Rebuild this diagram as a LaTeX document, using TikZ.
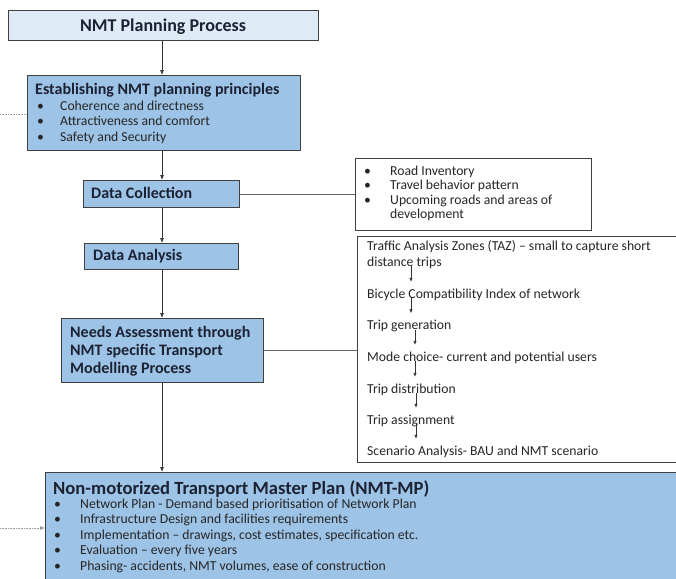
\documentclass[tikz,border=0pt]{standalone}
\usepackage{fontspec}
\setmainfont{Carlito}
\usetikzlibrary{arrows.meta}
\definecolor{boxblue}{HTML}{9DC3E6}
\definecolor{lightblue}{HTML}{DEEBF7}
\definecolor{edge}{HTML}{404040}
\definecolor{headtxt}{HTML}{1C2233}
\definecolor{bodytxt}{HTML}{262626}
\tikzset{
 box/.style={draw=edge, line width=1pt, inner sep=0pt, anchor=north west},
 bluebox/.style={box, fill=boxblue},
 whitebox/.style={box, fill=white},
 txt/.style={inner sep=0pt, anchor=base west, text=bodytxt, text height=9pt, text depth=2.5pt, font=\fontsize{13.7}{15}\selectfont},
 btxt/.style={txt, text=headtxt, text height=11pt, text depth=3pt, font=\bfseries\fontsize{16}{18}\selectfont},
 bigtxt/.style={txt, text=headtxt, text height=12.5pt, text depth=2pt, font=\bfseries\fontsize{18.6}{20}\selectfont},
 arr/.style={-{Latex[length=5pt,width=4pt]}, draw=black!80, line width=0.7pt},
 sarr/.style={-{Latex[length=4pt,width=3.5pt]}, draw=black!80, line width=0.6pt, shorten >=7pt},
 link/.style={draw=black!60, line width=0.7pt},
 dots/.style={draw=black!40, densely dotted, line width=0.6pt},
}
\begin{document}
\begin{tikzpicture}[x=1pt,y=-1pt]
\clip (0,0) rectangle (676,578);
\fill[white] (0,0) rectangle (676,578);

% boxes
\node[box, fill=lightblue, minimum width=310pt, minimum height=30pt] (title) at (8,10) {};
\node[btxt, anchor=base, font=\bfseries\fontsize{18}{20}\selectfont] (titletxt) at (163,31.5) {NMT Planning Process};

\node[bluebox, minimum width=273pt, minimum height=75pt] (princ) at (27,75) {};
\node[btxt] (ph) at (35,94) {Establishing NMT planning principles};
\node[txt] (pb1) at (37,110) {\textbullet};
\node[txt] (pt1) at (60,110) {Coherence and directness};
\node[txt] (pb2) at (37,125.5) {\textbullet};
\node[txt] (pt2) at (60,125.5) {Attractiveness and comfort};
\node[txt] (pb3) at (37,141) {\textbullet};
\node[txt] (pt3) at (60,141) {Safety and Security};

\node[bluebox, minimum width=156pt, minimum height=27pt] (dc) at (83,180) {};
\node[btxt] (dctxt) at (91,198) {Data Collection};

\node[bluebox, minimum width=154pt, minimum height=26pt] (da) at (84,243) {};
\node[btxt] (datxt) at (93,260.5) {Data Analysis};

\node[bluebox, minimum width=202pt, minimum height=64pt] (needs) at (61,318) {};
\node[btxt] (n1) at (70,337) {Needs Assessment through};
\node[btxt] (n2) at (70,355) {NMT specific Transport};
\node[btxt] (n3) at (70,373) {Modelling Process};

\node[whitebox, minimum width=236pt, minimum height=72pt] (road) at (355,158) {};
\node[txt] (rb1) at (364,175) {\textbullet};
\node[txt] (rt1) at (390,175) {Road Inventory};
\node[txt] (rb2) at (364,189.5) {\textbullet};
\node[txt] (rt2) at (390,189.5) {Travel behavior pattern};
\node[txt] (rb3) at (364,204) {\textbullet};
\node[txt] (rt3) at (390,204) {Upcoming roads and areas of};
\node[txt] (rt4) at (390,218.5) {development};

\node[whitebox, minimum width=340pt, minimum height=226pt] (taz) at (357,236) {};
\node[txt] (t1a) at (367,250) {Traffic Analysis Zones (TAZ) – small to capture short};
\node[txt] (t1b) at (367,266) {distance trips};
\node[txt] (t2) at (367,298) {Bicycle Compatibility Index of network};
\node[txt] (t3) at (367,329.5) {Trip generation};
\node[txt] (t4) at (367,361) {Mode choice- current and potential users};
\node[txt] (t5) at (367,393) {Trip distribution};
\node[txt] (t6) at (367,424) {Trip assignment};
\node[txt] (t7) at (367,455) {Scenario Analysis- BAU and NMT scenario};

\node[bluebox, minimum width=650pt, minimum height=130pt] (mp) at (45,472) {};
\node[bigtxt] (mph) at (53,494) {Non-motorized Transport Master Plan (NMT-MP)};
\node[txt] (mb1) at (54,508) {\textbullet};
\node[txt] (mt1) at (80,508) {Network Plan - Demand based prioritisation of Network Plan};
\node[txt] (mb2) at (54,523.5) {\textbullet};
\node[txt] (mt2) at (80,523.5) {Infrastructure Design and facilities requirements};
\node[txt] (mb3) at (54,539) {\textbullet};
\node[txt] (mt3) at (80,539) {Implementation – drawings, cost estimates, specification etc.};
\node[txt] (mb4) at (54,554.5) {\textbullet};
\node[txt] (mt4) at (80,554.5) {Evaluation – every five years};
\node[txt] (mb5) at (54,570) {\textbullet};
\node[txt] (mt5) at (80,570) {Phasing- accidents, NMT volumes, ease of construction};

% main flow
\coordinate (colx) at (162,0);
\draw[arr] (title.south -| colx) -- (princ.north -| colx);
\draw[arr] (princ.south -| colx) -- (dc.north -| colx);
\draw[arr] (dc.south -| colx) -- (da.north -| colx);
\draw[arr] (da.south -| colx) -- (needs.north -| colx);
\draw[arr] (needs.south -| colx) -- (mp.north -| colx);

% side links
\draw[link] (dc.east) -- (dc.east -| road.west);
\draw[link] (needs.east) -- (needs.east -| taz.west);

% dotted inputs
\coordinate (d1) at (0,114);
\coordinate (d2) at (0,528);
\draw[dots] (d1) -- (d1 -| princ.west);
\draw[dots, -{Latex[length=5pt,width=4pt]}] (d2) -- (d2 -| mp.west);

% small arrows in modelling process
\coordinate (ax1) at (411,0);
\coordinate (ax2) at (415,0);
\coordinate (ax3) at (416,0);
\draw[sarr] (t1b.base -| ax1) -- (t2.north -| ax1);
\draw[sarr] (t2.base -| ax1) -- (t3.north -| ax1);
\draw[sarr] (t3.base -| ax2) -- (t4.north -| ax2);
\draw[sarr] (t4.base -| ax2) -- (t5.north -| ax2);
\draw[sarr] (t5.base -| ax3) -- (t6.north -| ax3);
\draw[sarr] (t6.base -| ax3) -- (t7.north -| ax3);
\end{tikzpicture}
\end{document}
